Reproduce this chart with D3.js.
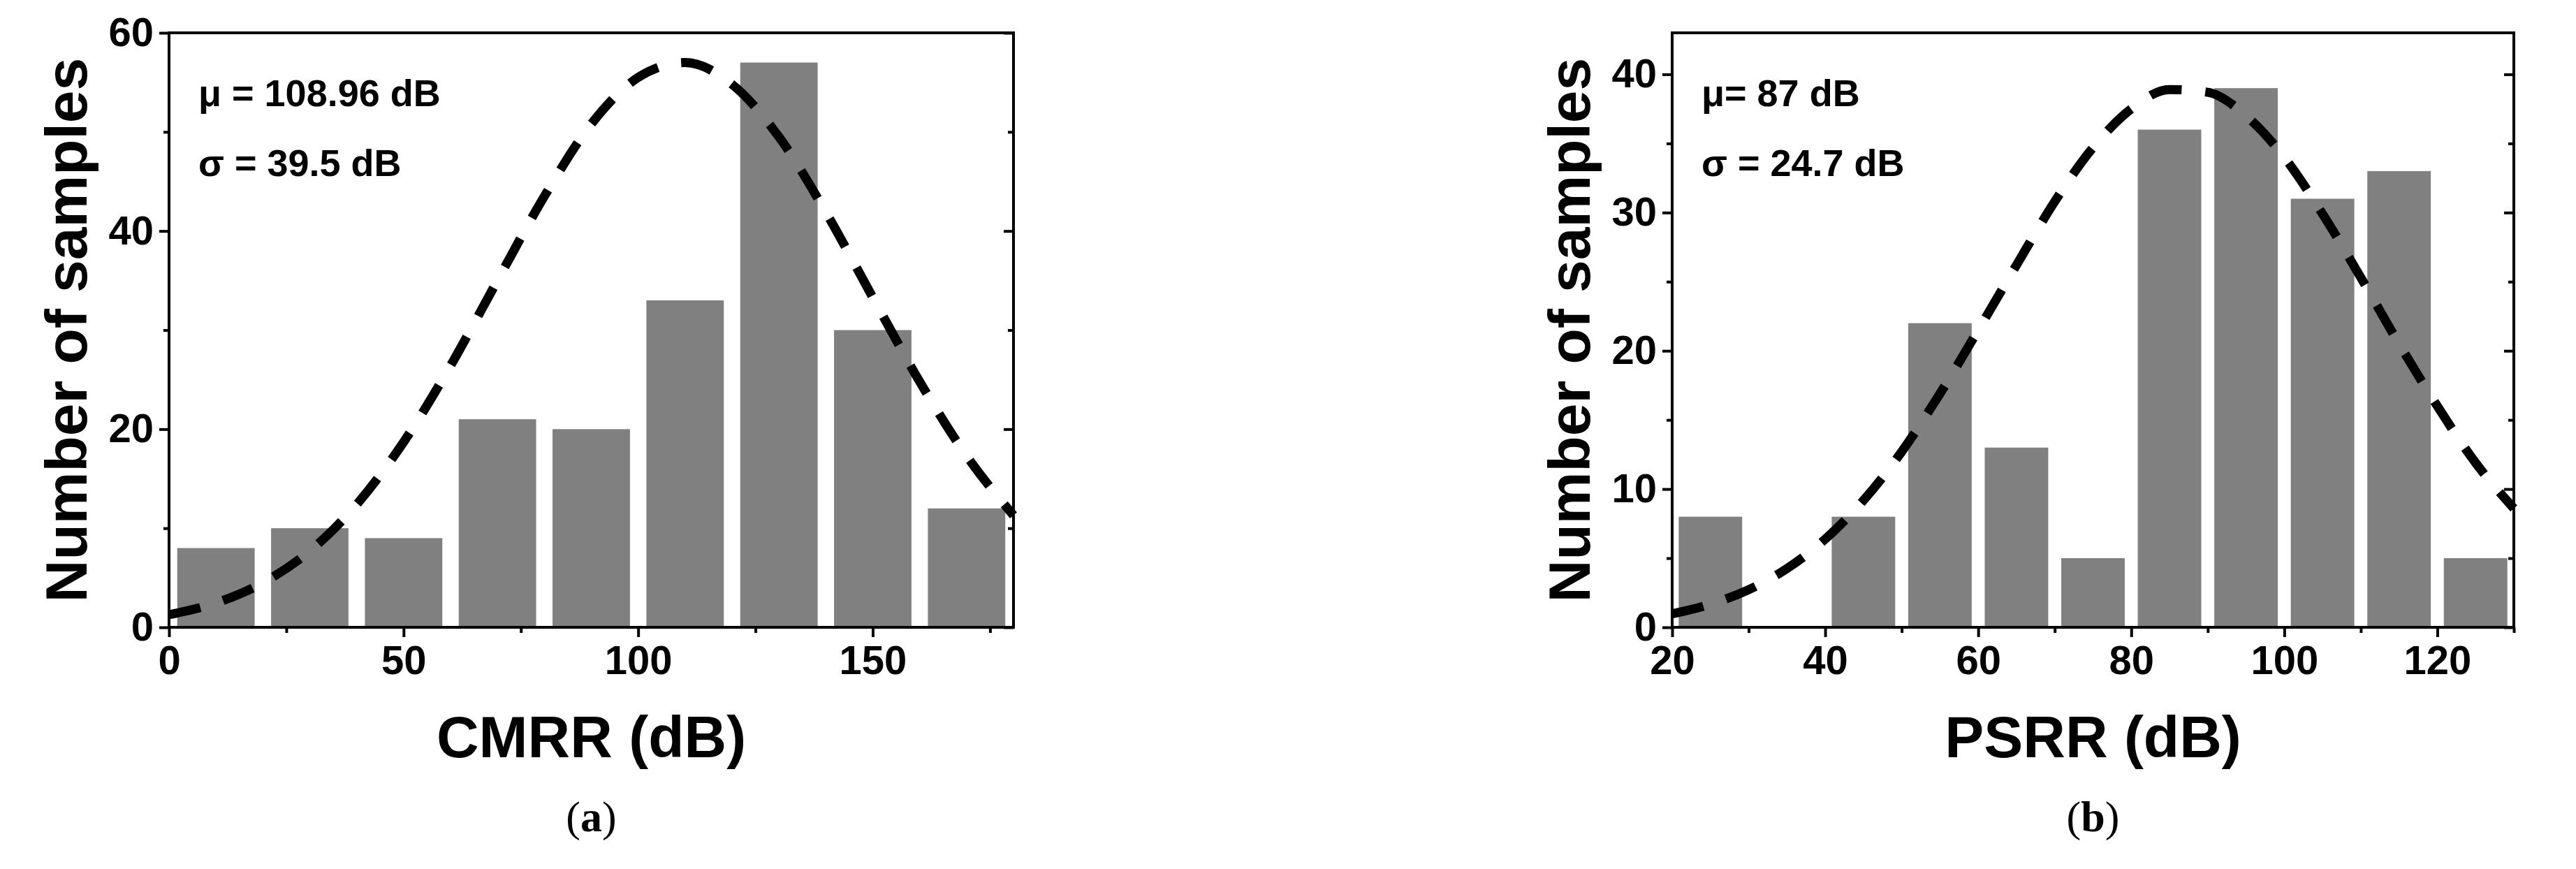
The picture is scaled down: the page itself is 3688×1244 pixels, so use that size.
<!DOCTYPE html>
<html><head><meta charset="utf-8">
<script src="https://cdn.jsdelivr.net/npm/d3@7"></script>
<style>body{margin:0;background:#fff}text{font-family:"Liberation Sans Narrow","Liberation Sans",Arial,sans-serif;font-weight:bold}</style>
</head><body>
<svg id="c" width="3688" height="1244"></svg>
<script>
// Panel (a) CMRR
const cmrrBins = [10,30,50,70,90,110,130,150,170];
const cmrrCounts = [8,10,9,21,20,33,57,30,12];
const cmrrFitX = [0,10,20,30,40,50,60,70,80,90,100,110,120,130,140,150,160,170,180];
const cmrrFitY = [1.27,2.46,4.5,7.7,12.4,18.7,26.4,35.0,43.5,50.8,55.5,57.0,54.8,49.5,41.9,33.3,24.8,17.3,11.3];
const cmrrXTicks = [0,50,100,150];
const cmrrYTicks = [0,20,40,60];
// Panel (b) PSRR
const psrrBins = [25,35,45,55,65,75,85,95,105,115,125];
const psrrCounts = [8,0,8,22,13,5,36,39,31,33,5];
const psrrFitX = [20,25,30,35,40,45,50,55,60,65,70,75,80,85,90,95,100,105,110,115,120,125,130];
const psrrFitY = [0.98,1.67,2.72,4.25,6.38,9.18,12.7,16.9,21.5,26.2,30.8,34.7,37.5,38.9,38.7,37.0,34.0,29.9,25.3,20.5,16.0,11.9,8.6];
const psrrXTicks = [20,40,60,80,100,120];
const psrrYTicks = [0,10,20,30,40];

const svg = d3.select("#c");

function panel(o){
  const g = svg.append("g");
  const x = d3.scaleLinear().domain(o.xd).range([o.x0,o.x1]);
  const y = d3.scaleLinear().domain(o.yd).range([o.y1,o.y0]);
  g.selectAll("rect.bar").data(o.bins).enter().append("rect")
    .attr("x",(d)=>x(d-o.bw/2)).attr("width",x(o.xd[0]+o.bw)-x(o.xd[0]))
    .attr("y",(d,i)=>y(o.counts[i])).attr("height",(d,i)=>y(0)-y(o.counts[i]))
    .attr("fill","#808080");
  const line = d3.line().x((d)=>x(d[0])).y((d)=>y(d[1])).curve(d3.curveMonotoneX);
  g.append("path").datum(o.fx.map((v,i)=>[v,o.fy[i]])).attr("d",line)
    .attr("fill","none").attr("stroke","#000").attr("stroke-width",13)
    .attr("stroke-dasharray","46,34");
  g.append("rect").attr("x",o.x0).attr("y",o.y0).attr("width",o.x1-o.x0).attr("height",o.y1-o.y0)
    .attr("fill","none").attr("stroke","#000").attr("stroke-width",4);
  const xa = g.append("g").attr("transform",`translate(0,${o.y1})`)
    .call(d3.axisBottom(x).tickValues(o.xt).tickSize(14).tickPadding(12).tickFormat(d3.format("d")));
  const xm = g.append("g").attr("transform",`translate(0,${o.y1})`)
    .call(d3.axisBottom(x).tickValues(o.xm).tickSize(8).tickFormat(""));
  const ya = g.append("g").attr("transform",`translate(${o.x0},0)`)
    .call(d3.axisLeft(y).tickValues(o.yt).tickSize(14).tickPadding(8).tickFormat(d3.format("d")));
  const ym = g.append("g").attr("transform",`translate(${o.x0},0)`)
    .call(d3.axisLeft(y).tickValues(o.ym).tickSize(8).tickFormat(""));
  const yr = g.append("g").attr("transform",`translate(${o.x1},0)`)
    .call(d3.axisLeft(y).tickValues(o.yt).tickSize(14).tickFormat(""));
  const yr2 = g.append("g").attr("transform",`translate(${o.x1},0)`)
    .call(d3.axisLeft(y).tickValues(o.ym).tickSize(8).tickFormat(""));
  [xa,xm,ya,ym,yr,yr2].forEach(a=>{a.select(".domain").remove();
    a.selectAll("line").attr("stroke","#000").attr("stroke-width",4);
    a.selectAll("text").attr("fill","#000").style("font-size","58px");});
  g.append("text").attr("x",(o.x0+o.x1)/2).attr("y",1084).attr("text-anchor","middle")
    .style("font-size","84px").text(o.xl);
  g.append("text").attr("transform",`translate(${o.x0-118},${(o.y0+o.y1)/2}) rotate(-90)`)
    .attr("text-anchor","middle").style("font-size","84px").text("Number of samples");
  g.append("text").attr("x",o.x0+42).attr("y",152).style("font-size","54px").text(o.t1);
  g.append("text").attr("x",o.x0+42).attr("y",252).style("font-size","54px").text(o.t2);
  g.append("text").attr("x",(o.x0+o.x1)/2).attr("y",1190).attr("text-anchor","middle")
    .style("font-family","'Liberation Serif',serif").style("font-weight","normal").style("font-size","62px")
    .selectAll("tspan").data(["(",o.cap,")"]).enter().append("tspan")
    .style("font-weight",(d,i)=>i===1?"bold":"normal").text(d=>d);
}

panel({xd:[0,180],yd:[0,60],x0:242,x1:1451,y0:47,y1:898,bins:cmrrBins,counts:cmrrCounts,bw:16.5,
  fx:cmrrFitX,fy:cmrrFitY,xt:cmrrXTicks,xm:[25,75,125,175],yt:cmrrYTicks,ym:[10,30,50],
  xl:"CMRR (dB)",t1:"μ = 108.96 dB",t2:"σ = 39.5 dB",cap:"a"});
panel({xd:[20,130],yd:[0,43],x0:2394,x1:3599,y0:47,y1:898,bins:psrrBins,counts:psrrCounts,bw:8.3,
  fx:psrrFitX,fy:psrrFitY,xt:psrrXTicks,xm:[30,50,70,90,110,130],yt:psrrYTicks,ym:[5,15,25,35],
  xl:"PSRR (dB)",t1:"μ= 87 dB",t2:"σ = 24.7 dB",cap:"b"});
</script>
</body></html>
